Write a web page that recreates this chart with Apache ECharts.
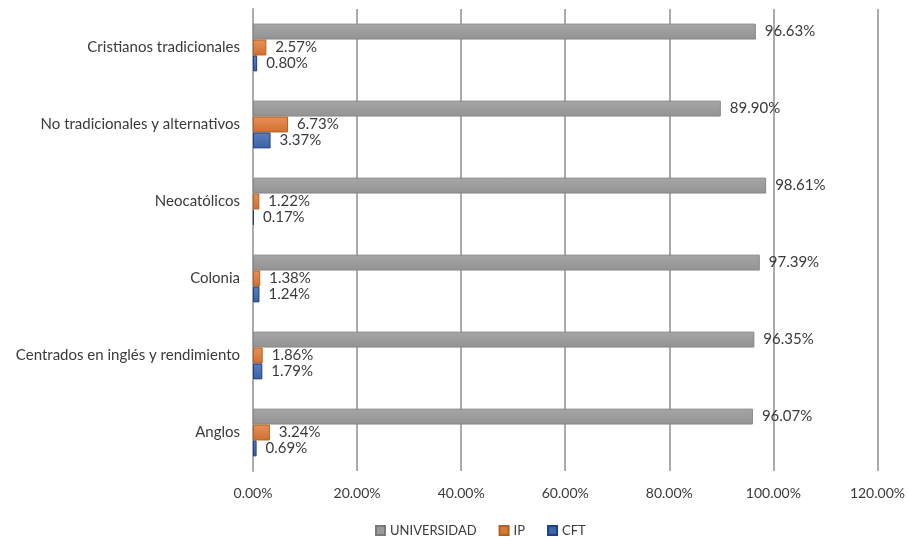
<!DOCTYPE html>
<html>
<head>
<meta charset="utf-8">
<script src="https://cdn.jsdelivr.net/npm/echarts@6/dist/echarts.min.js"></script>
<style>
html,body{margin:0;padding:0;background:#fff;}
#c{width:908px;height:537px;}
</style>
</head>
<body>
<div id="c"></div>
<script>
var categories = ["Cristianos tradicionales","No tradicionales y alternativos","Neocatólicos","Colonia","Centrados en inglés y rendimiento","Anglos"];
var universidad = [96.63, 89.90, 98.61, 97.39, 96.35, 96.07];
var ip = [2.57, 6.73, 1.22, 1.38, 1.86, 3.24];
var cft = [0.80, 3.37, 0.17, 1.24, 1.79, 0.69];
var seriesNames = ["UNIVERSIDAD","IP","CFT"];

var FONT = "Lato";
var chart = echarts.init(document.getElementById('c'), null, {renderer:'canvas'});

function grad(c1, c2){
  return new echarts.graphic.LinearGradient(0,0,0,1,[{offset:0,color:c1},{offset:1,color:c2}]);
}
var label = {
  show:true, position:'right', distance:9,
  color:'#3a3a3a', fontFamily:FONT, fontSize:15,
  formatter:function(p){return p.value.toFixed(2)+'%';}
};
function mk(name, data, fill, border){
  return {
    name:name, type:'bar', data:data, barGap:'0%', barCategoryGap:'38%',
    itemStyle:{color:fill, borderColor:border, borderWidth:1},
    label:label
  };
}
chart.setOption({
  animation:false,
  textStyle:{fontFamily:FONT},
  grid:{left:253, right:29, top:9, bottom:66, containLabel:false},
  legend:{
    top:519, left:370, itemWidth:9, itemHeight:9, itemGap:22,
    icon:'rect',
    textStyle:{color:'#3a3a3a', fontSize:13, fontFamily:FONT},
    data:[
      {name:'UNIVERSIDAD', itemStyle:{color:'#9a9a9a', borderColor:'#7a7a7a'}},
      {name:'IP', itemStyle:{color:'#d67a33', borderColor:'#b0601f'}},
      {name:'CFT', itemStyle:{color:'#3d66aa', borderColor:'#1d3f85'}}
    ]
  },
  xAxis:{
    type:'value', min:0, max:120, interval:20,
    axisLine:{show:false}, axisTick:{show:false},
    splitLine:{show:true, lineStyle:{color:'#ababab', width:2}},
    axisLabel:{formatter:function(v){return v.toFixed(2)+'%';}, color:'#3a3a3a', fontSize:14, margin:15, fontFamily:FONT}
  },
  yAxis:{
    type:'category', data:categories, inverse:true,
    axisLine:{show:true, lineStyle:{color:'#ababab', width:2}},
    axisTick:{show:false},
    axisLabel:{color:'#3a3a3a', fontSize:15, margin:13, fontFamily:FONT}
  },
  series:[
    mk(seriesNames[0], universidad, grad('#a6a6a6','#939393'), '#868686'),
    mk(seriesNames[1], ip, grad('#e8905a','#d06f2f'), '#b5631f'),
    mk(seriesNames[2], cft, grad('#5a7fbf','#3a62a5'), '#1d3f85')
  ]
});
</script>
</body>
</html>
